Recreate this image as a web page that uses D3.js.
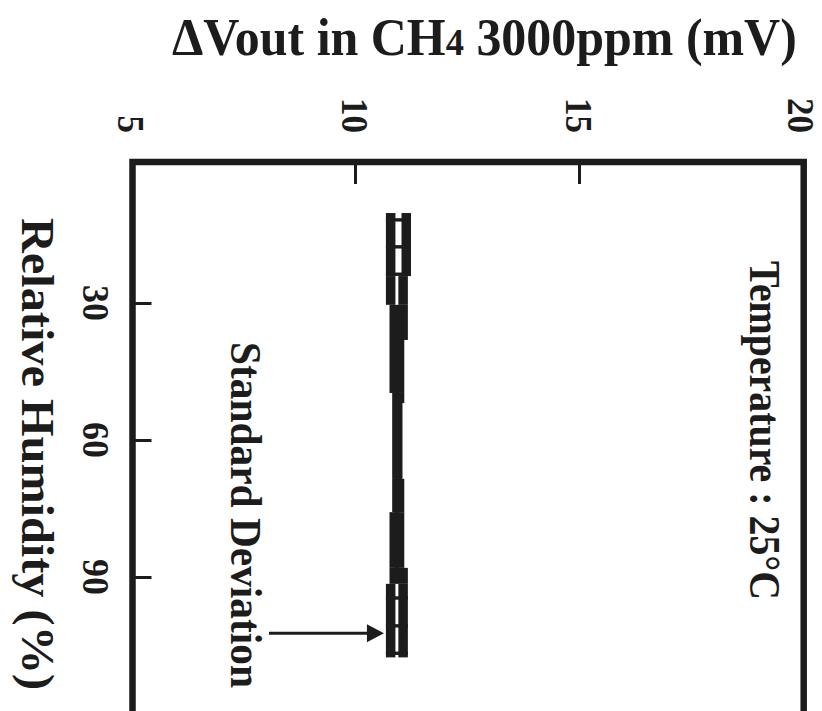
<!DOCTYPE html>
<html><head><meta charset="utf-8">
<script src="https://cdn.jsdelivr.net/npm/d3@7"></script>
<style>body{margin:0;background:#fff}svg{display:block}</style>
</head><body>
<script>
// ---- data ----
const xTickValues = [5, 10, 15, 20];
const xTickLabels = ["5", "10", "15", "20"];
const yTickValues = [30, 60, 90];
const yTickLabels = ["30", "60", "90"];
// relative-humidity segment edges (%) and outer limits of the standard-deviation band (mV)
const rhEdges = [10.3, 24.1, 30.4, 38.1, 49.7, 51.9, 68.5, 75.8, 88.0, 91.5, 107.6];
const sdLower = [10.69, 10.69, 10.77, 10.77, 10.83, 10.83, 10.83, 10.77, 10.77, 10.69];
const sdUpper = [11.25, 11.18, 11.18, 11.10, 11.10, 11.06, 11.10, 11.10, 11.18, 11.18];
// humidity of the visible error-bar rungs (%)
const rhRungs = [11.8, 17.7, 23.7, 94.6, 100.7, 106.7];

const titleText = ["\u0394Vout in CH", "4", " 3000ppm (mV)"];
const yTitle = "Relative Humidity (%)";
const noteSD = "Standard Deviation";
const noteTemp = "Temperature : 25\u00B0C";

// ---- drawing ----
const W = 822, H = 711, ink = "#1c1c1c";
const font = "'Liberation Serif','Times New Roman',serif";
const svg = d3.select("body").append("svg").attr("width", W).attr("height", H);

const x = d3.scaleLinear().domain([5, 20]).range([131, 803]);
const y = d3.scaleLinear().domain([0, 120]).range([166, 714]);
const frameTop = 162, frameL = x(5) + 1.5, frameR = x(20) + 0.7;

// frame (bottom is beyond the picture)
svg.append("path")
  .attr("d", `M${frameL},${H + 10} V${frameTop} H${frameR} V${H + 10}`)
  .attr("fill", "none").attr("stroke", ink).attr("stroke-width", 6.5);

// top axis ticks (inward)
const gx = svg.append("g").attr("transform", `translate(0,${frameTop})`)
  .call(d3.axisTop(x).tickValues(xTickValues.slice(1, -1)).tickSize(-22).tickFormat(""));
gx.select(".domain").remove();
gx.selectAll("line").attr("stroke", ink).attr("stroke-width", 3);

// left axis ticks (inward)
const gy = svg.append("g").attr("transform", `translate(${frameL},0)`)
  .call(d3.axisLeft(y).tickValues(yTickValues).tickSize(-19).tickFormat(""));
gy.select(".domain").remove();
gy.selectAll("line").attr("stroke", ink).attr("stroke-width", 3);

// rotated text helper (reads top to bottom, glyph tops point right)
function rtext(bx, by, str, size, anchor, len) {
  const t = svg.append("text")
    .attr("transform", `translate(${bx},${by}) rotate(90)`)
    .attr("font-family", font).attr("font-weight", "bold")
    .attr("font-size", size).attr("fill", ink)
    .attr("text-anchor", anchor).text(str);
  if (len) t.attr("textLength", len).attr("lengthAdjust", "spacingAndGlyphs");
  return t;
}

// x tick labels
const tickFs = 38;
xTickValues.forEach((v, i) => {
  const s = xTickLabels[i];
  const bx = Math.min(x(v) - 13.5, W - 0.9 * tickFs);
  rtext(bx, 133, s, tickFs, "end", s.length * 17.5);
});
// y tick labels
yTickValues.forEach((v, i) => {
  const s = yTickLabels[i];
  rtext(83, y(v), s, tickFs, "middle", s.length * 18);
});

// axis titles
rtext(22, 218, yTitle, 46, "start", 472);
const tt = svg.append("text")
  .attr("font-family", font).attr("font-weight", "bold").attr("font-size", 52)
  .attr("fill", ink);
tt.append("tspan").text(titleText[0]);
tt.append("tspan").attr("font-size", 38).text(titleText[1]);
tt.append("tspan").text(titleText[2]);
const tw = tt.node().getBBox().width;
tt.attr("transform", `translate(172,55) scale(${625 / tw},1)`);

// annotations
rtext(750, 261, noteTemp, 44, "start", 339);
rtext(231, 342, noteSD, 44, "start", 346);

// standard-deviation band: two thick cap lines per segment
const barW = 9.5;
const segs = d3.range(sdLower.length).map(i => ({
  r0: rhEdges[i], r1: rhEdges[i + 1], lo: sdLower[i], hi: sdUpper[i]
}));
const band = svg.append("g").attr("fill", ink);
band.selectAll(".lo").data(segs).join("rect")
  .attr("x", d => x(d.lo)).attr("width", barW)
  .attr("y", d => y(d.r0)).attr("height", d => y(d.r1) - y(d.r0));
band.selectAll(".hi").data(segs).join("rect")
  .attr("x", d => x(d.hi) - barW).attr("width", barW)
  .attr("y", d => y(d.r0)).attr("height", d => y(d.r1) - y(d.r0));

// rungs
svg.append("g").selectAll("line").data(rhRungs).join("line")
  .each(function (r) {
    const s = segs.find(d => r >= d.r0 && r <= d.r1) || segs[segs.length - 1];
    d3.select(this).attr("x1", x(s.lo)).attr("x2", x(s.hi))
      .attr("y1", y(r)).attr("y2", y(r));
  })
  .attr("stroke", ink).attr("stroke-width", 3.4);

// arrow pointing at the band
const arrowY = y(102.3);
const arrowTip = x(sdLower[sdLower.length - 1]) - 2;
svg.append("line").attr("x1", 269).attr("x2", arrowTip - 14)
  .attr("y1", arrowY).attr("y2", arrowY)
  .attr("stroke", ink).attr("stroke-width", 3);
svg.append("path")
  .attr("d", `M${arrowTip},${arrowY} L${arrowTip - 17},${arrowY - 9} L${arrowTip - 17},${arrowY + 9} Z`)
  .attr("fill", ink);
</script>
</body></html>
